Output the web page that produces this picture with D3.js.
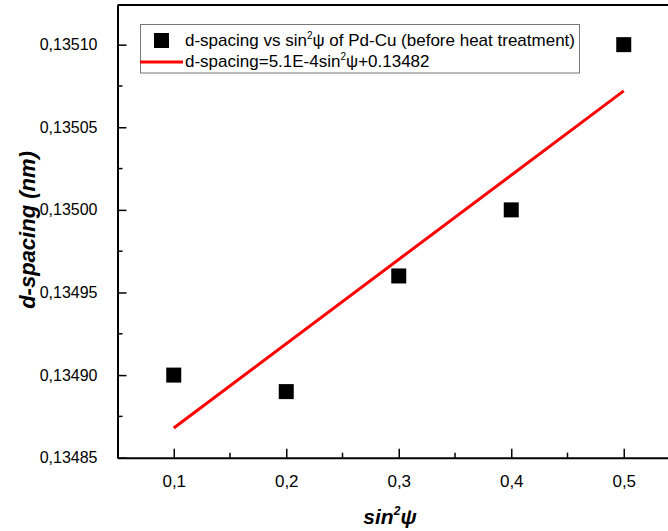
<!DOCTYPE html>
<html>
<head>
<meta charset="utf-8">
<script src="https://cdn.jsdelivr.net/npm/d3@7"></script>
<style>
  body { margin: 0; background: #fff; }
  svg { display: block; font-family: "Liberation Sans", Arial, sans-serif; }
</style>
</head>
<body>
<div id="chart-area"></div>
<script>
// data
var sin2psi = [0.1, 0.2, 0.3, 0.4, 0.5];
var dSpacing = [0.13490, 0.13489, 0.13496, 0.13500, 0.13510];
var fitX = [0.1, 0.5];
var fitY = [0.134868, 0.135072];
var xTicks = [0.1, 0.2, 0.3, 0.4, 0.5];
var yTicks = [0.13485, 0.13490, 0.13495, 0.13500, 0.13505, 0.13510];
var xMinor = [0.15, 0.25, 0.35, 0.45, 0.55];
var yMinor = [0.134875, 0.134925, 0.134975, 0.135025, 0.135075];

var width = 668, height = 531;
var plotLeft = 117.5, plotTop = 5, plotBottom = 457.7;

var svg = d3.select("#chart-area")
  .append("svg")
  .attr("width", width)
  .attr("height", height);

var x = d3.scaleLinear().domain([0.05, 0.55]).range([plotLeft, plotLeft + 562.5]);
var y = d3.scaleLinear().domain([0.13485, 0.135124]).range([plotBottom, plotTop]);

var comma = function(f) { return function(d) { return d3.format(f)(d).replace(".", ","); }; };

// minor ticks
svg.append("g").selectAll("line").data(xMinor).join("line")
  .attr("x1", d => x(d)).attr("x2", d => x(d))
  .attr("y1", plotBottom).attr("y2", plotBottom - 5)
  .attr("stroke", "#000").attr("stroke-width", 1.5);

svg.append("g").selectAll("line").data(yMinor).join("line")
  .attr("x1", plotLeft).attr("x2", plotLeft + 5)
  .attr("y1", d => y(d)).attr("y2", d => y(d))
  .attr("stroke", "#000").attr("stroke-width", 1.5);

// axes with inward ticks
var xAxis = svg.append("g")
  .attr("transform", "translate(0," + plotBottom + ")")
  .call(d3.axisBottom(x).tickValues(xTicks).tickFormat(comma(".1f")).tickSizeInner(-9).tickSizeOuter(0).tickPadding(17));

var yAxis = svg.append("g")
  .attr("transform", "translate(" + plotLeft + ",0)")
  .call(d3.axisLeft(y).tickValues(yTicks).tickFormat(comma(".5f")).tickSizeInner(-9).tickSizeOuter(0).tickPadding(20));

[xAxis, yAxis].forEach(function(g) {
  g.attr("font-size", null).attr("font-family", null);
  g.select(".domain").attr("stroke-width", 2);
  g.selectAll(".tick line").attr("stroke-width", 1.5);
  g.selectAll(".tick text").attr("fill", "#000");
});
xAxis.selectAll(".tick text").style("font-size", "17px");
yAxis.selectAll(".tick text").style("font-size", "16px");

// top frame line
svg.append("line")
  .attr("x1", plotLeft).attr("x2", width)
  .attr("y1", plotTop).attr("y2", plotTop)
  .attr("stroke", "#000").attr("stroke-width", 2);

// fit line
svg.append("path")
  .datum(d3.zip(fitX, fitY))
  .attr("d", d3.line().x(d => x(d[0])).y(d => y(d[1])))
  .attr("fill", "none")
  .attr("stroke", "#ff0000")
  .attr("stroke-width", 3);

// points
var size = 15;
svg.append("g").selectAll("rect").data(d3.zip(sin2psi, dSpacing)).join("rect")
  .attr("x", d => x(d[0]) - size / 2)
  .attr("y", d => y(d[1]) - size / 2)
  .attr("width", size)
  .attr("height", size)
  .attr("fill", "#000");

// legend
var legend = svg.append("g");
legend.append("rect")
  .attr("x", 140.5).attr("y", 24.5)
  .attr("width", 439).attr("height", 48.5)
  .attr("fill", "#fff")
  .attr("stroke", "#777").attr("stroke-width", 1);

legend.append("rect")
  .attr("x", 154).attr("y", 33)
  .attr("width", size).attr("height", size)
  .attr("fill", "#000");

var t1 = legend.append("text")
  .attr("x", 185).attr("y", 46)
  .style("font-size", "17px");
t1.append("tspan").text("d-spacing vs sin");
t1.append("tspan").attr("dy", -7).style("font-size", "10px").text("2");
t1.append("tspan").attr("dy", 7).text("ψ of Pd-Cu (before heat treatment)");

legend.append("line")
  .attr("x1", 140).attr("x2", 183)
  .attr("y1", 62).attr("y2", 62)
  .attr("stroke", "#ff0000").attr("stroke-width", 3);

var t2 = legend.append("text")
  .attr("x", 185).attr("y", 67)
  .style("font-size", "17px");
t2.append("tspan").text("d-spacing=5.1E-4sin");
t2.append("tspan").attr("dy", -7).style("font-size", "10px").text("2");
t2.append("tspan").attr("dy", 7).text("ψ+0.13482");

// axis titles
var xt = svg.append("text")
  .attr("x", 390).attr("y", 524)
  .attr("text-anchor", "middle")
  .style("font-size", "21px")
  .attr("font-weight", "bold")
  .attr("font-style", "italic");
xt.append("tspan").text("sin");
xt.append("tspan").attr("dy", -9).style("font-size", "12px").text("2");
xt.append("tspan").attr("dy", 9).text("ψ");

svg.append("text")
  .attr("transform", "translate(35,230) rotate(-90)")
  .attr("text-anchor", "middle")
  .style("font-size", "22px")
  .attr("font-weight", "bold")
  .attr("font-style", "italic")
  .text("d-spacing (nm)");
</script>
</body>
</html>
